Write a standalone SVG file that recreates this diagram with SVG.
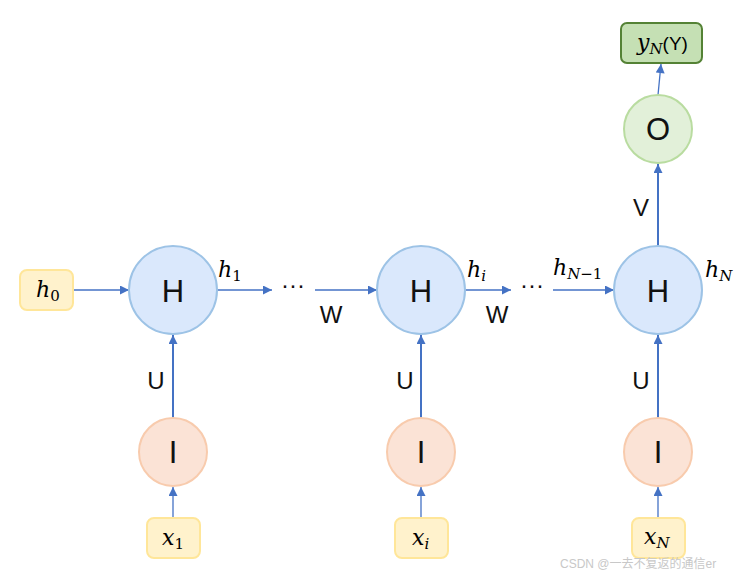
<svg xmlns="http://www.w3.org/2000/svg" width="752" height="572" viewBox="0 0 752 572">
<defs>
<style>
.hc{fill:#dae8fc;stroke:#9dc3e6;stroke-width:2}
.ic{fill:#fbe3d6;stroke:#f8cbad;stroke-width:2}
.oc{fill:#e2f0d9;stroke:#b9dca0;stroke-width:2}
.xb{fill:#fff2cc;stroke:#ffe699;stroke-width:2}
.yb{fill:#c5e0b4;stroke:#548235;stroke-width:2}
.big{font-family:"Liberation Sans",Arial,sans-serif;font-size:31px;fill:#111;text-anchor:middle}
.lab{font-family:"Liberation Sans",Arial,sans-serif;font-size:24px;fill:#111;text-anchor:middle}
.m{font-family:"DejaVu Serif","Liberation Serif",serif;font-style:italic;font-size:22px;fill:#000}
.s{font-size:15px}
.su{font-style:normal}
.ln{stroke:#4472c4;stroke-width:1.3;fill:none}
.lt{stroke:#4472c4;stroke-width:2;fill:none}
.wm{font-family:"Liberation Sans","Noto Sans CJK SC",sans-serif;font-size:12px;fill:#c8c8c8}
</style>
<marker id="a" viewBox="0 0 10 10" refX="10" refY="5" markerWidth="10" markerHeight="9" markerUnits="userSpaceOnUse" orient="auto">
<path d="M0,0 L10,5 L0,10 Z" fill="#4472c4"/>
</marker>
</defs>
<g id="connectors">
<line class="ln" x1="73" y1="290" x2="129" y2="290" marker-end="url(#a)"/>
<line class="ln" x1="217" y1="290" x2="272" y2="290" marker-end="url(#a)"/>
<line class="ln" x1="315" y1="290" x2="377" y2="290" marker-end="url(#a)"/>
<line class="ln" x1="465" y1="290" x2="511" y2="290" marker-end="url(#a)"/>
<line class="ln" x1="553" y1="290" x2="614" y2="290" marker-end="url(#a)"/>
<line class="lt" x1="173" y1="418" x2="173" y2="335" marker-end="url(#a)"/>
<line class="lt" x1="421" y1="418" x2="421" y2="335" marker-end="url(#a)"/>
<line class="lt" x1="658" y1="418" x2="658" y2="335" marker-end="url(#a)"/>
<line class="ln" x1="173" y1="518" x2="173" y2="487" marker-end="url(#a)"/>
<line class="ln" x1="421" y1="518" x2="421" y2="487" marker-end="url(#a)"/>
<line class="ln" x1="658" y1="518" x2="658" y2="487" marker-end="url(#a)"/>
<line class="lt" x1="658" y1="246" x2="658" y2="164" marker-end="url(#a)"/>
<line class="ln" x1="658" y1="95" x2="661" y2="64" marker-end="url(#a)"/>
<text class="lab" x="156" y="389">U</text>
<text class="lab" x="405" y="389">U</text>
<text class="lab" x="641" y="389">U</text>
<text class="lab" x="641" y="216">V</text>
<text class="lab" x="331" y="323">W</text>
<text class="lab" x="497" y="323">W</text>
<text class="lab" x="293" y="293">···</text>
<text class="lab" x="532" y="293">···</text>
<text class="m" x="218" y="277">h<tspan class="s su" dy="4">1</tspan></text>
<text class="m" x="467" y="277">h<tspan class="s" dy="4">i</tspan></text>
<text class="m" x="553" y="275">h<tspan class="s" dy="4">N</tspan><tspan class="s su">−1</tspan></text>
<text class="m" x="705" y="277">h<tspan class="s" dy="4">N</tspan></text>
</g>
<g id="h0"><rect class="xb" x="20" y="270" width="53" height="40" rx="7"/><text class="m" x="36" y="297">h<tspan class="s su" dy="4">0</tspan></text></g>
<g id="H1"><circle class="hc" cx="173" cy="290" r="44"/><text class="big" x="173" y="302">H</text></g>
<g id="H2"><circle class="hc" cx="421" cy="290" r="44"/><text class="big" x="421" y="302">H</text></g>
<g id="H3"><circle class="hc" cx="658" cy="290" r="44"/><text class="big" x="658" y="302">H</text></g>
<g id="I1"><circle class="ic" cx="173" cy="452" r="34"/><text class="big" x="173" y="463">I</text></g>
<g id="I2"><circle class="ic" cx="421" cy="452" r="34"/><text class="big" x="421" y="463">I</text></g>
<g id="I3"><circle class="ic" cx="658" cy="452" r="34"/><text class="big" x="658" y="463">I</text></g>
<g id="x1"><rect class="xb" x="147" y="518" width="53" height="40" rx="7"/><text class="m" x="162" y="545">x<tspan class="s su" dy="4">1</tspan></text></g>
<g id="xi"><rect class="xb" x="395" y="518" width="53" height="40" rx="7"/><text class="m" x="412" y="545">x<tspan class="s" dy="4">i</tspan></text></g>
<g id="xN"><rect class="xb" x="632" y="518" width="53" height="40" rx="7"/><text class="m" x="644" y="544">x<tspan class="s" dy="4">N</tspan></text></g>
<g id="O"><circle class="oc" cx="658" cy="129" r="34"/><text class="big" x="658" y="140">O</text></g>
<g id="yN"><rect class="yb" x="621" y="23" width="81" height="40" rx="6"/><text class="m" x="637" y="50">y<tspan class="s" dy="4">N</tspan><tspan dy="-4" style="font-style:normal;font-family:'Liberation Sans',Arial,sans-serif;font-size:19px">(Y)</tspan></text></g>
<text class="wm" x="560" y="568">CSDN @一去不复返的通信er</text>
</svg>
